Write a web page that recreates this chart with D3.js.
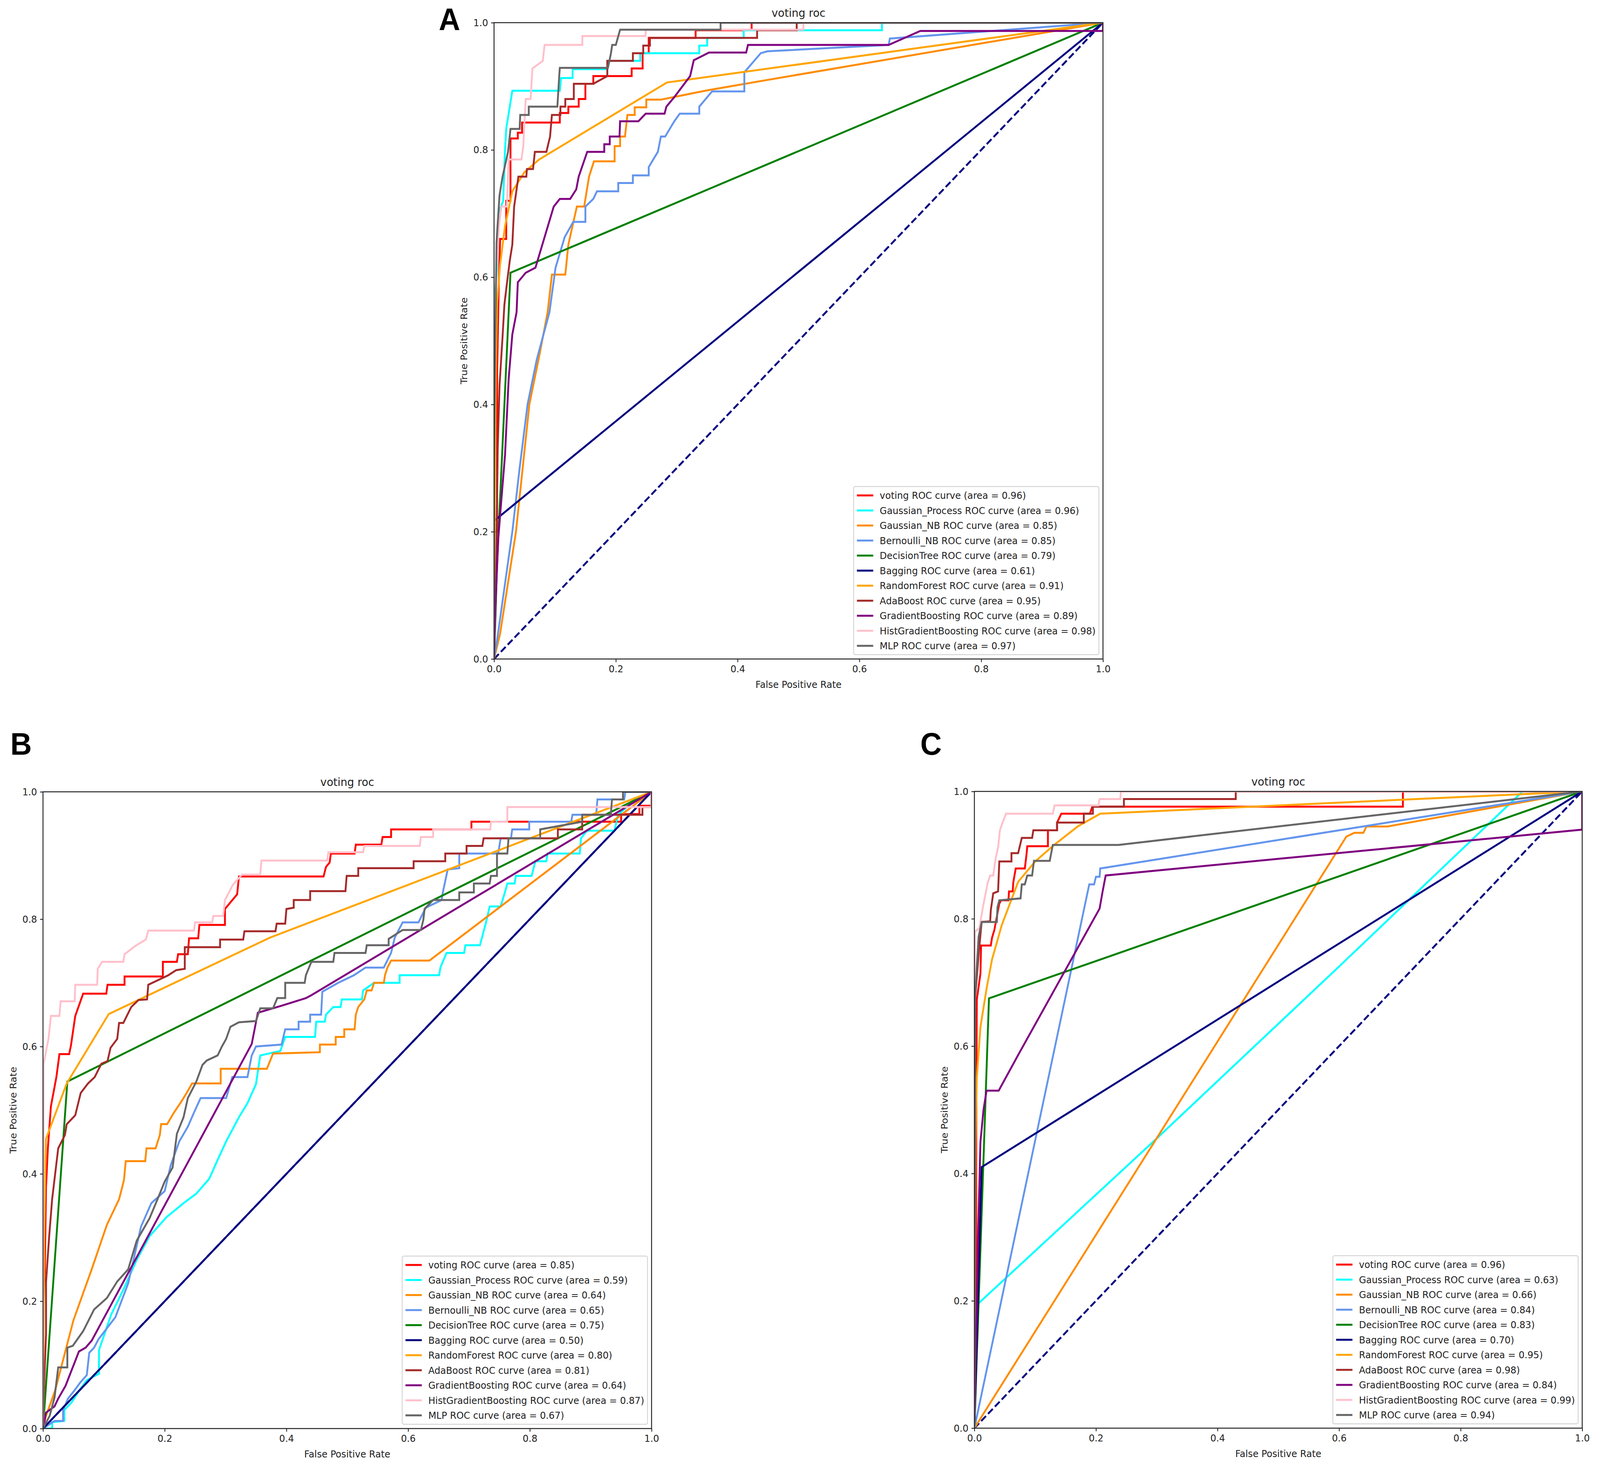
<!DOCTYPE html>
<html>
<head>
<meta charset="utf-8">
<script src="https://cdn.jsdelivr.net/npm/d3@7/dist/d3.min.js"></script>
<style>
  html, body { margin: 0; padding: 0; background: #fff; overflow: hidden; }
  svg { display: block; background: #fff; width: 100vw; height: 100vh; }
</style>
</head>
<body>
<svg viewBox="0 0 4317 3758" preserveAspectRatio="none"></svg>
<script>
// ---- data: [false positive rate, true positive rate] ----
const modelNames = ['voting', 'Gaussian_Process', 'Gaussian_NB', 'Bernoulli_NB', 'DecisionTree', 'Bagging',
  'RandomForest', 'AdaBoost', 'GradientBoosting', 'HistGradientBoosting', 'MLP'];
const aucA = [0.96, 0.96, 0.85, 0.85, 0.79, 0.61, 0.91, 0.95, 0.89, 0.98, 0.97];
const aucB = [0.85, 0.59, 0.64, 0.65, 0.75, 0.50, 0.80, 0.81, 0.64, 0.87, 0.67];
const aucC = [0.96, 0.63, 0.66, 0.84, 0.83, 0.70, 0.95, 0.98, 0.84, 0.99, 0.94];
const tickValues = [0, 0.2, 0.4, 0.6, 0.8, 1.0];

// panel A
const aVoting = [[0,0],[0,0.2],[0.005,0.2],[0.005,0.45],[0.008,0.6],[0.01,0.66],[0.02,0.66],[0.02,0.72],[0.027,0.72],[0.027,0.818],[0.039,0.818],[0.039,0.827],[0.046,0.827],[0.046,0.843],[0.108,0.843],[0.108,0.858],[0.122,0.858],[0.122,0.868],[0.139,0.868],[0.139,0.88],[0.15,0.88],[0.15,0.904],[0.163,0.904],[0.163,0.916],[0.226,0.916],[0.226,0.928],[0.244,0.928],[0.244,0.952],[0.254,0.952],[0.254,0.976],[0.331,0.976],[0.331,0.988],[0.423,0.988],[0.423,1],[1,1]];
const aGP = [[0,0],[0,0.55],[0.005,0.62],[0.007,0.7],[0.015,0.72],[0.018,0.8],[0.02,0.833],[0.024,0.857],[0.03,0.893],[0.108,0.893],[0.11,0.913],[0.129,0.913],[0.129,0.927],[0.186,0.927],[0.186,0.94],[0.24,0.94],[0.24,0.952],[0.337,0.952],[0.337,0.964],[0.35,0.964],[0.35,0.976],[0.41,0.976],[0.41,0.988],[0.637,0.988],[0.637,1],[1,1]];
const aGNB = [[0,0],[0.01,0.04],[0.036,0.2],[0.058,0.4],[0.075,0.48],[0.088,0.545],[0.095,0.604],[0.117,0.604],[0.122,0.651],[0.136,0.711],[0.148,0.711],[0.156,0.758],[0.164,0.782],[0.198,0.782],[0.198,0.806],[0.207,0.806],[0.207,0.821],[0.215,0.821],[0.219,0.855],[0.231,0.855],[0.231,0.867],[0.25,0.867],[0.25,0.879],[0.274,0.879],[0.352,0.894],[0.449,0.91],[1,1]];
const aBNB = [[0,0],[0.005,0.03],[0.03,0.2],[0.042,0.3],[0.055,0.4],[0.07,0.47],[0.091,0.545],[0.101,0.615],[0.116,0.663],[0.13,0.687],[0.15,0.687],[0.15,0.711],[0.163,0.723],[0.169,0.735],[0.204,0.735],[0.204,0.748],[0.228,0.748],[0.228,0.76],[0.254,0.76],[0.254,0.773],[0.269,0.797],[0.274,0.821],[0.281,0.821],[0.296,0.845],[0.305,0.857],[0.337,0.857],[0.337,0.868],[0.358,0.892],[0.411,0.892],[0.411,0.922],[0.438,0.952],[0.449,0.955],[0.648,0.965],[0.65,0.975],[1,1]];
const aDT = [[0,0],[0.005,0.15],[0.027,0.607],[1,1]];
const aBag = [[0,0],[0,0.217],[1,1]];
const aRF = [[0,0],[0.001,0.2],[0.003,0.45],[0.005,0.56],[0.01,0.62],[0.018,0.68],[0.03,0.735],[0.05,0.765],[0.074,0.785],[0.284,0.906],[1,1]];
const aAda = [[0,0],[0.0035,0.145],[0.006,0.33],[0.009,0.43],[0.014,0.507],[0.017,0.557],[0.021,0.589],[0.026,0.627],[0.03,0.651],[0.033,0.711],[0.04,0.758],[0.053,0.758],[0.054,0.77],[0.064,0.77],[0.067,0.797],[0.086,0.797],[0.089,0.809],[0.092,0.821],[0.095,0.855],[0.109,0.855],[0.109,0.868],[0.117,0.868],[0.117,0.88],[0.131,0.88],[0.131,0.904],[0.163,0.904],[0.186,0.916],[0.186,0.94],[0.228,0.94],[0.228,0.952],[0.245,0.952],[0.245,0.964],[0.256,0.964],[0.256,0.976],[0.432,0.976],[0.432,0.988],[0.497,0.988],[0.497,1],[1,1]];
const aGB = [[0,0],[0.003,0.1],[0.007,0.19],[0.012,0.25],[0.018,0.32],[0.022,0.4],[0.024,0.44],[0.03,0.51],[0.037,0.545],[0.039,0.592],[0.052,0.607],[0.068,0.615],[0.083,0.663],[0.098,0.711],[0.108,0.723],[0.125,0.723],[0.135,0.738],[0.139,0.758],[0.153,0.797],[0.181,0.797],[0.181,0.809],[0.19,0.809],[0.19,0.821],[0.206,0.821],[0.207,0.845],[0.237,0.845],[0.249,0.857],[0.28,0.857],[0.283,0.868],[0.296,0.883],[0.322,0.916],[0.328,0.941],[0.353,0.953],[0.414,0.953],[0.417,0.965],[0.648,0.965],[0.7,0.987],[1,0.987],[1,1]];
const aHGB = [[0,0],[0,0.4],[0.003,0.6],[0.008,0.68],[0.012,0.711],[0.021,0.711],[0.024,0.785],[0.045,0.785],[0.048,0.806],[0.052,0.88],[0.06,0.88],[0.063,0.928],[0.08,0.94],[0.083,0.965],[0.145,0.965],[0.145,0.979],[0.249,0.979],[0.249,0.989],[0.508,0.989],[0.508,1],[1,1]];
const aMLP = [[0,0],[0,0.3],[0.002,0.5],[0.004,0.654],[0.009,0.729],[0.014,0.758],[0.023,0.797],[0.027,0.833],[0.042,0.833],[0.043,0.855],[0.057,0.855],[0.057,0.868],[0.104,0.868],[0.107,0.916],[0.108,0.929],[0.187,0.929],[0.192,0.952],[0.194,0.965],[0.2,0.965],[0.207,0.989],[0.372,0.989],[0.372,1],[1,1]];

// panel B
const bVoting = [[0,0],[0,0.18],[0.003,0.25],[0.005,0.38],[0.008,0.44],[0.013,0.506],[0.022,0.552],[0.027,0.588],[0.043,0.588],[0.046,0.602],[0.053,0.648],[0.066,0.683],[0.104,0.683],[0.106,0.697],[0.134,0.697],[0.134,0.71],[0.197,0.71],[0.197,0.733],[0.22,0.733],[0.222,0.745],[0.238,0.745],[0.24,0.77],[0.255,0.77],[0.257,0.791],[0.299,0.791],[0.299,0.816],[0.319,0.839],[0.322,0.867],[0.461,0.867],[0.465,0.882],[0.471,0.889],[0.473,0.903],[0.512,0.903],[0.514,0.917],[0.556,0.917],[0.558,0.929],[0.572,0.929],[0.572,0.941],[0.704,0.941],[0.704,0.953],[0.95,0.953],[0.95,0.965],[0.98,0.965],[0.98,0.978],[1,0.978],[1,1]];
const bGP = [[0,0],[0.015,0],[0.015,0.01],[0.035,0.012],[0.035,0.029],[0.047,0.041],[0.059,0.059],[0.072,0.076],[0.092,0.086],[0.092,0.123],[0.112,0.179],[0.133,0.22],[0.154,0.265],[0.175,0.302],[0.203,0.332],[0.231,0.354],[0.252,0.369],[0.273,0.392],[0.287,0.422],[0.301,0.451],[0.322,0.489],[0.336,0.511],[0.35,0.541],[0.357,0.586],[0.39,0.593],[0.398,0.615],[0.447,0.615],[0.449,0.639],[0.463,0.639],[0.465,0.65],[0.477,0.662],[0.489,0.662],[0.491,0.674],[0.524,0.674],[0.526,0.688],[0.544,0.7],[0.586,0.7],[0.586,0.712],[0.651,0.712],[0.653,0.724],[0.663,0.747],[0.692,0.747],[0.694,0.759],[0.718,0.759],[0.728,0.795],[0.734,0.82],[0.752,0.82],[0.759,0.842],[0.763,0.856],[0.775,0.856],[0.777,0.868],[0.803,0.868],[0.809,0.891],[0.827,0.891],[0.829,0.903],[0.882,0.903],[0.884,0.927],[0.894,0.939],[0.939,0.939],[0.945,0.964],[0.973,0.988],[1,1]];
const bGNB = [[0,0],[0.005,0.02],[0.02,0.06],[0.05,0.17],[0.08,0.25],[0.105,0.32],[0.125,0.36],[0.133,0.39],[0.136,0.42],[0.168,0.42],[0.17,0.44],[0.185,0.44],[0.192,0.461],[0.194,0.478],[0.204,0.478],[0.215,0.496],[0.227,0.513],[0.236,0.527],[0.245,0.542],[0.292,0.542],[0.292,0.565],[0.368,0.565],[0.378,0.589],[0.455,0.591],[0.455,0.603],[0.481,0.603],[0.481,0.615],[0.495,0.615],[0.495,0.627],[0.512,0.627],[0.514,0.65],[0.518,0.662],[0.528,0.674],[0.532,0.688],[0.54,0.688],[0.544,0.7],[0.56,0.7],[0.562,0.712],[0.566,0.724],[0.572,0.735],[0.635,0.735],[1,1]];
const bBNB = [[0,0],[0.019,0.012],[0.033,0.012],[0.033,0.029],[0.041,0.047],[0.051,0.059],[0.061,0.072],[0.072,0.084],[0.076,0.119],[0.084,0.127],[0.091,0.14],[0.119,0.175],[0.14,0.228],[0.154,0.287],[0.161,0.317],[0.178,0.354],[0.2,0.373],[0.21,0.414],[0.224,0.451],[0.238,0.474],[0.248,0.496],[0.259,0.519],[0.301,0.519],[0.311,0.552],[0.336,0.552],[0.343,0.586],[0.35,0.6],[0.392,0.603],[0.398,0.627],[0.42,0.627],[0.42,0.639],[0.439,0.639],[0.439,0.65],[0.457,0.65],[0.459,0.686],[0.485,0.7],[0.511,0.712],[0.53,0.724],[0.56,0.724],[0.572,0.747],[0.578,0.771],[0.591,0.795],[0.617,0.795],[0.629,0.818],[0.655,0.83],[0.657,0.842],[0.665,0.878],[0.684,0.88],[0.684,0.903],[0.748,0.903],[0.752,0.927],[0.769,0.927],[0.771,0.941],[0.799,0.941],[0.799,0.953],[0.868,0.953],[0.87,0.964],[0.909,0.964],[0.911,0.988],[0.955,0.988],[0.957,1],[1,1]];
const bDT = [[0,0],[0.04,0.545],[1,1]];
const bBag = [[0,0],[1,1]];
const bRF = [[0,0],[0.002,0.3],[0.004,0.42],[0.005,0.455],[0.039,0.542],[0.108,0.651],[0.373,0.771],[1,1]];
const bAda = [[0,0],[0,0.02],[0.005,0.15],[0.005,0.23],[0.01,0.3],[0.015,0.36],[0.02,0.4],[0.025,0.44],[0.036,0.461],[0.039,0.478],[0.053,0.492],[0.062,0.527],[0.074,0.542],[0.085,0.552],[0.096,0.573],[0.106,0.577],[0.111,0.598],[0.122,0.612],[0.125,0.637],[0.132,0.637],[0.145,0.662],[0.157,0.673],[0.171,0.674],[0.173,0.697],[0.206,0.712],[0.219,0.72],[0.233,0.722],[0.233,0.756],[0.291,0.756],[0.291,0.768],[0.329,0.768],[0.331,0.781],[0.382,0.781],[0.384,0.793],[0.398,0.793],[0.4,0.816],[0.412,0.818],[0.412,0.83],[0.439,0.83],[0.439,0.844],[0.497,0.844],[0.499,0.868],[0.518,0.868],[0.518,0.88],[0.609,0.88],[0.609,0.891],[0.661,0.891],[0.661,0.903],[0.696,0.903],[0.696,0.915],[0.722,0.915],[0.724,0.927],[0.846,0.927],[0.846,0.941],[0.886,0.941],[0.886,0.964],[0.985,0.964],[0.985,0.976],[1,0.976],[1,1]];
const bGB = [[0,0],[0.005,0.025],[0.019,0.035],[0.025,0.047],[0.037,0.067],[0.059,0.121],[0.07,0.127],[0.08,0.138],[0.343,0.604],[0.353,0.653],[0.392,0.664],[0.432,0.676],[0.44,0.68],[1,1]];
const bHGB = [[0,0],[0,0.25],[0.001,0.45],[0.001,0.573],[0.009,0.612],[0.013,0.648],[0.027,0.648],[0.029,0.671],[0.052,0.671],[0.053,0.697],[0.089,0.697],[0.09,0.722],[0.097,0.733],[0.132,0.733],[0.134,0.745],[0.152,0.758],[0.169,0.768],[0.173,0.782],[0.248,0.782],[0.25,0.795],[0.278,0.795],[0.28,0.805],[0.296,0.805],[0.299,0.83],[0.312,0.854],[0.327,0.87],[0.357,0.87],[0.359,0.892],[0.467,0.892],[0.469,0.905],[0.526,0.905],[0.528,0.915],[0.619,0.915],[0.621,0.929],[0.641,0.929],[0.641,0.941],[0.735,0.941],[0.736,0.953],[0.763,0.953],[0.763,0.976],[1,0.976],[1,1]];
const bMLP = [[0,0],[0.011,0.02],[0.019,0.049],[0.025,0.096],[0.04,0.096],[0.04,0.127],[0.049,0.13],[0.066,0.153],[0.084,0.187],[0.105,0.205],[0.122,0.231],[0.14,0.25],[0.154,0.295],[0.175,0.33],[0.189,0.362],[0.2,0.388],[0.213,0.41],[0.22,0.463],[0.231,0.489],[0.238,0.519],[0.252,0.545],[0.262,0.571],[0.269,0.578],[0.287,0.586],[0.294,0.6],[0.301,0.612],[0.308,0.631],[0.322,0.638],[0.35,0.64],[0.357,0.66],[0.378,0.66],[0.385,0.676],[0.398,0.676],[0.398,0.7],[0.43,0.7],[0.432,0.712],[0.441,0.733],[0.477,0.733],[0.479,0.747],[0.53,0.747],[0.532,0.759],[0.568,0.759],[0.568,0.769],[0.591,0.783],[0.621,0.783],[0.625,0.799],[0.627,0.816],[0.641,0.83],[0.684,0.83],[0.684,0.842],[0.708,0.842],[0.708,0.856],[0.734,0.856],[0.736,0.868],[0.746,0.868],[0.746,0.903],[0.763,0.903],[0.765,0.927],[0.817,0.927],[0.817,0.941],[0.886,0.953],[0.886,0.964],[0.933,0.964],[0.935,0.988],[0.953,0.988],[0.953,1],[1,1]];

// panel C
const cVoting = [[0,0],[0,0.1],[0.003,0.15],[0.003,0.45],[0.004,0.673],[0.01,0.714],[0.011,0.758],[0.027,0.758],[0.029,0.77],[0.033,0.783],[0.041,0.824],[0.044,0.829],[0.056,0.829],[0.057,0.843],[0.063,0.843],[0.064,0.857],[0.068,0.879],[0.083,0.879],[0.086,0.903],[0.087,0.914],[0.121,0.914],[0.121,0.939],[0.136,0.939],[0.136,0.951],[0.143,0.965],[0.19,0.965],[0.194,0.976],[0.705,0.976],[0.705,1],[1,1]];
const cGP = [[0,0],[0,0.19],[0.3,0.455],[0.6,0.725],[0.902,1],[1,1]];
const cGNB = [[0,0],[0.612,0.929],[0.625,0.935],[0.64,0.935],[0.645,0.945],[0.68,0.945],[1,1]];
const cBNB = [[0,0],[0.189,0.854],[0.197,0.854],[0.2,0.866],[0.206,0.866],[0.207,0.879],[1,1]];
const cDT = [[0,0],[0.024,0.675],[1,1]];
const cBag = [[0,0],[0.012,0.41],[1,1]];
const cRF = [[0,0],[0.002,0.45],[0.004,0.55],[0.01,0.63],[0.02,0.69],[0.029,0.736],[0.045,0.79],[0.072,0.858],[0.1,0.89],[0.13,0.915],[0.17,0.945],[0.207,0.965],[1,1]];
const cAda = [[0,0],[0,0.05],[0.001,0.3],[0.001,0.673],[0.008,0.755],[0.012,0.795],[0.026,0.796],[0.027,0.813],[0.031,0.84],[0.039,0.843],[0.041,0.89],[0.061,0.89],[0.061,0.903],[0.072,0.903],[0.078,0.927],[0.095,0.927],[0.097,0.939],[0.136,0.939],[0.136,0.951],[0.18,0.951],[0.18,0.965],[0.195,0.965],[0.195,0.976],[0.246,0.976],[0.246,0.988],[0.43,0.988],[0.43,1],[1,1]];
const cGB = [[0,0],[0.002,0.1],[0.006,0.3],[0.01,0.45],[0.015,0.5],[0.02,0.53],[0.04,0.53],[0.072,0.586],[0.206,0.816],[0.211,0.843],[0.216,0.868],[1,0.94],[1,1]];
const cHGB = [[0,0],[0,0.5],[0.001,0.78],[0.008,0.785],[0.014,0.818],[0.022,0.857],[0.026,0.868],[0.031,0.868],[0.035,0.895],[0.039,0.912],[0.042,0.939],[0.046,0.95],[0.052,0.965],[0.129,0.965],[0.132,0.978],[0.204,0.978],[0.206,0.988],[0.24,0.988],[0.241,1],[1,1]];
const cMLP = [[0,0],[0,0.3],[0.001,0.676],[0.007,0.772],[0.012,0.795],[0.037,0.795],[0.038,0.818],[0.041,0.829],[0.076,0.832],[0.078,0.854],[0.083,0.854],[0.087,0.868],[0.095,0.868],[0.098,0.891],[0.124,0.891],[0.129,0.916],[0.237,0.916],[1,1]];

// ---- styles ----
const modelColors = ['red', 'aqua', 'darkorange', 'cornflowerblue', 'green', 'navy',
  'orange', 'brown', 'purple', 'pink', '#666666'];

const svg = d3.select('svg');
const fontSize = 25;
const ink = '#222';
const lineW = 5;

const panels = [
  {label: 'A', labelX: 1184, labelY: 77, left: 1333, top: 58, w: 1643, h: 1629, auc: aucA,
    curves: [aVoting, aGP, aGNB, aBNB, aDT, aBag, aRF, aAda, aGB, aHGB, aMLP]},
  {label: 'B', labelX: 28, labelY: 1932, left: 116, top: 2027, w: 1642, h: 1630, auc: aucB,
    curves: [bVoting, bGP, bGNB, bBNB, bDT, bBag, bRF, bAda, bGB, bHGB, bMLP]},
  {label: 'C', labelX: 2483, labelY: 1932, left: 2629, top: 2026, w: 1640, h: 1630, auc: aucC,
    curves: [cVoting, cGP, cGNB, cBNB, cDT, cBag, cRF, cAda, cGB, cHGB, cMLP]}
];

const render = (p, idx) => {
  const xScale = d3.scaleLinear().domain([0, 1]).range([0, p.w]);
  const yScale = d3.scaleLinear().domain([0, 1]).range([p.h, 0]);

  svg.append('text')
    .attr('x', p.labelX)
    .attr('y', p.labelY)
    .attr('font-family', 'Liberation Sans, Arial, sans-serif')
    .attr('font-weight', 'bold')
    .attr('font-size', 80)
    .attr('fill', '#000')
    .text(p.label);

  const g = svg.append('g')
    .attr('transform', `translate(${p.left}, ${p.top})`);

  // curves are clipped to the axes box like matplotlib does
  svg.append('defs').append('clipPath')
    .attr('id', `clip${idx}`)
    .append('rect')
      .attr('width', p.w)
      .attr('height', p.h);

  const plot = g.append('g').attr('clip-path', `url(#clip${idx})`);

  const line = d3.line()
    .x(d => xScale(d[0]))
    .y(d => yScale(d[1]));

  // chance diagonal
  plot.append('path')
    .datum([[0, 0], [1, 1]])
    .attr('d', line)
    .attr('fill', 'none')
    .attr('stroke', 'navy')
    .attr('stroke-width', lineW)
    .attr('stroke-dasharray', '18,8');

  plot.selectAll('path.roc').data(p.curves)
    .enter().append('path')
      .attr('class', 'roc')
      .attr('d', line)
      .attr('fill', 'none')
      .attr('stroke', (d, i) => modelColors[i])
      .attr('stroke-width', lineW);

  // axes
  const fmt = d3.format('.1f');
  const xAxisGroup = g.append('g')
    .attr('transform', `translate(0, ${p.h})`)
    .call(d3.axisBottom(xScale).tickValues(tickValues).tickFormat(fmt).tickSize(8).tickPadding(8));
  const yAxisGroup = g.append('g')
    .call(d3.axisLeft(yScale).tickValues(tickValues).tickFormat(fmt).tickSize(8).tickPadding(8));

  [xAxisGroup, yAxisGroup].forEach(a => {
    a.select('.domain').remove();
    a.attr('font-size', fontSize).attr('font-family', 'DejaVu Sans, sans-serif');
    a.selectAll('.tick line').attr('stroke', ink).attr('stroke-width', 2.2);
    a.selectAll('.tick text').attr('fill', ink);
  });

  // spines
  g.append('rect')
    .attr('width', p.w)
    .attr('height', p.h)
    .attr('fill', 'none')
    .attr('stroke', ink)
    .attr('stroke-width', 2.5);

  const textStyle = sel => sel
    .attr('font-family', 'DejaVu Sans, sans-serif')
    .attr('fill', ink);

  g.append('text')
    .call(textStyle)
    .attr('x', p.w / 2)
    .attr('y', -15)
    .attr('text-anchor', 'middle')
    .attr('font-size', 29)
    .text('voting roc');

  g.append('text')
    .call(textStyle)
    .attr('x', p.w / 2)
    .attr('y', p.h + 74)
    .attr('text-anchor', 'middle')
    .attr('font-size', fontSize)
    .text('False Positive Rate');

  g.append('text')
    .call(textStyle)
    .attr('transform', `translate(-72, ${p.h / 2}) rotate(-90)`)
    .attr('text-anchor', 'middle')
    .attr('font-size', fontSize)
    .text('True Positive Rate');

  // legend, lower right
  const pad = 8.8, handleLen = 44, handlePad = 17.6, pitch = 38.5;
  const legend = g.append('g');
  const box = legend.append('rect');
  const labels = modelNames.map((name, i) => `${name} ROC curve (area = ${d3.format('.2f')(p.auc[i])})`);
  const rows = legend.selectAll('g.row').data(labels)
    .enter().append('g')
      .attr('class', 'row')
      .attr('transform', (d, i) => `translate(0, ${pad + 14 + i * pitch})`);
  rows.append('line')
    .attr('x1', pad)
    .attr('x2', pad + handleLen)
    .attr('stroke', (d, i) => modelColors[i])
    .attr('stroke-width', lineW);
  rows.append('text')
    .call(textStyle)
    .attr('x', pad + handleLen + handlePad)
    .attr('dy', '0.36em')
    .attr('font-size', fontSize)
    .text(d => d);

  let maxW = 0;
  rows.selectAll('text').each(function() { maxW = Math.max(maxW, this.getComputedTextLength()); });
  const boxW = pad * 2 + handleLen + handlePad + maxW;
  const boxH = pad * 2 + 28 + (labels.length - 1) * pitch;
  box.attr('width', boxW)
    .attr('height', boxH)
    .attr('rx', 4.4)
    .attr('fill', '#fff')
    .attr('fill-opacity', 0.8)
    .attr('stroke', '#cccccc')
    .attr('stroke-width', 2);
  legend.attr('transform', `translate(${p.w - 11 - boxW}, ${p.h - 11 - boxH})`);
};

panels.forEach(render);
</script>
</body>
</html>
